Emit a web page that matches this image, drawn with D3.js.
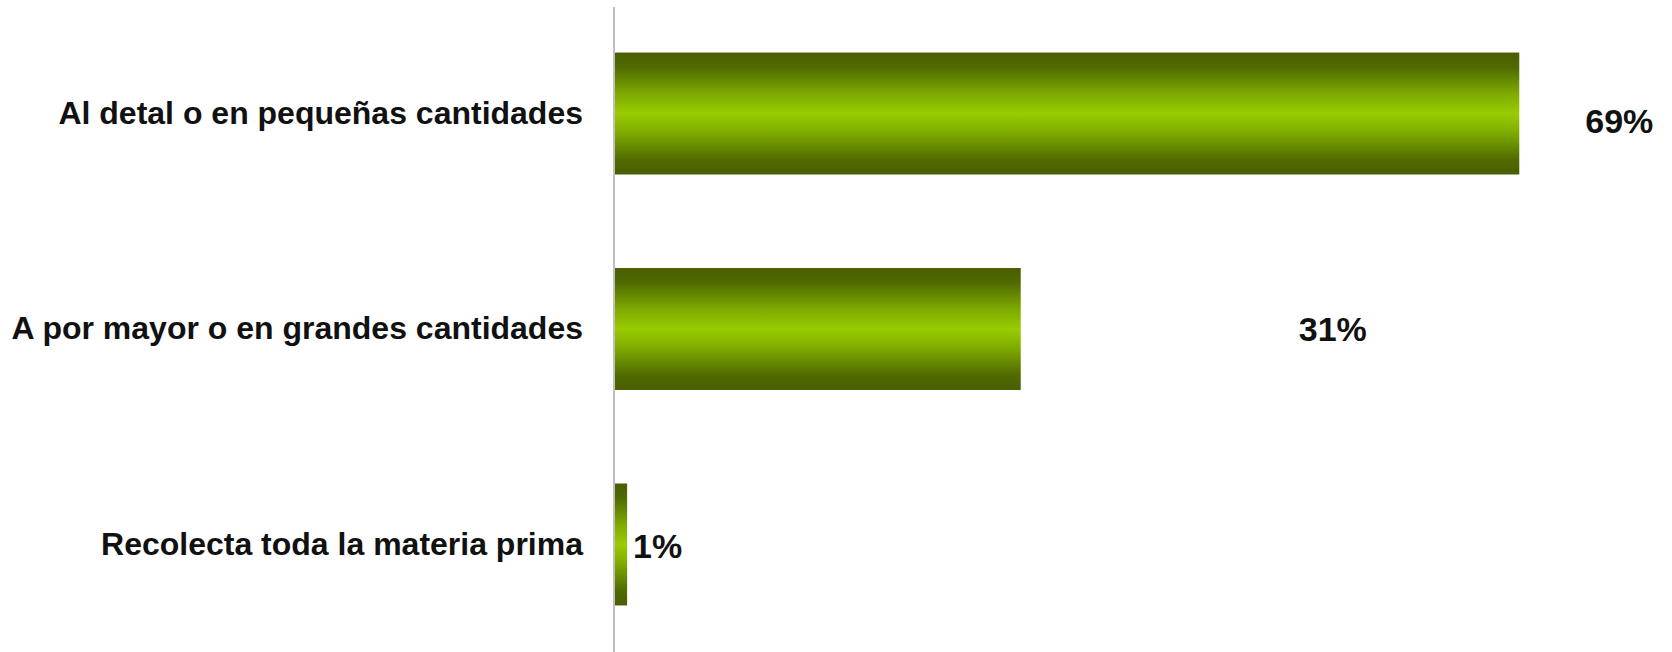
<!DOCTYPE html>
<html>
<head>
<meta charset="utf-8">
<script src="https://cdn.jsdelivr.net/npm/d3@7"></script>
<style>
  html, body { margin: 0; padding: 0; background: #ffffff; }
  svg { display: block; }
</style>
</head>
<body>
<svg id="chart" width="1672" height="652"></svg>
<script>
// ---- data ----
const categories = [
  "Al detal o en pequeñas cantidades",
  "A por mayor o en grandes cantidades",
  "Recolecta toda la materia prima"
];
const values = [69, 31, 1];
const valueLabels = ["69%", "31%", "1%"];

// ---- layout ----
const W = 1672, H = 652;
const axisX = 614;
const labelDx = [66, 278, 6];
const labelDy = [7, 0, 1];

const svg = d3.select("#chart");

const defs = svg.append("defs");
const grad = defs.append("linearGradient")
  .attr("id", "barGrad").attr("x1", 0).attr("y1", 0).attr("x2", 0).attr("y2", 1);
[[0, "#4a5e00"], [0.12, "#506a00"], [0.35, "#80ad00"], [0.5, "#99cc00"],
 [0.65, "#80ad00"], [0.88, "#506a00"], [1, "#4a5e00"]]
  .forEach(([o, c]) => grad.append("stop").attr("offset", o).attr("stop-color", c));

const x = d3.scaleLinear().domain([0, 100]).range([axisX, axisX + 1312]);
const y = d3.scaleBand().domain(categories).range([6, H])
  .paddingInner(0.434).paddingOuter(0.216);

const data = categories.map((c, i) => ({ c, v: values[i], l: valueLabels[i], i }));

// bars
svg.append("g").selectAll("rect").data(data).join("rect")
  .attr("x", x(0))
  .attr("y", d => y(d.c))
  .attr("width", d => x(d.v) - x(0))
  .attr("height", y.bandwidth())
  .attr("fill", "url(#barGrad)");

// axis
const yAxis = d3.axisLeft(y).tickSize(0).tickPadding(31);
const ag = svg.append("g").attr("transform", `translate(${axisX},0)`).call(yAxis);
ag.select(".domain").remove();
ag.selectAll("text")
  .attr("font-family", "Liberation Sans, Arial, sans-serif")
  .attr("font-size", 32)
  .attr("font-weight", "bold")
  .attr("fill", "#111");
svg.append("line")
  .attr("x1", axisX).attr("x2", axisX)
  .attr("y1", 7).attr("y2", H)
  .attr("stroke", "#bfbfbf").attr("stroke-width", 2);

// value labels
svg.append("g").selectAll("text").data(data).join("text")
  .attr("x", d => x(d.v) + labelDx[d.i])
  .attr("y", d => y(d.c) + y.bandwidth() / 2 + labelDy[d.i])
  .attr("dy", "0.36em")
  .attr("font-family", "Liberation Sans, Arial, sans-serif")
  .attr("font-size", 34)
  .attr("font-weight", "bold")
  .attr("fill", "#111")
  .text(d => d.l);
</script>
</body>
</html>
